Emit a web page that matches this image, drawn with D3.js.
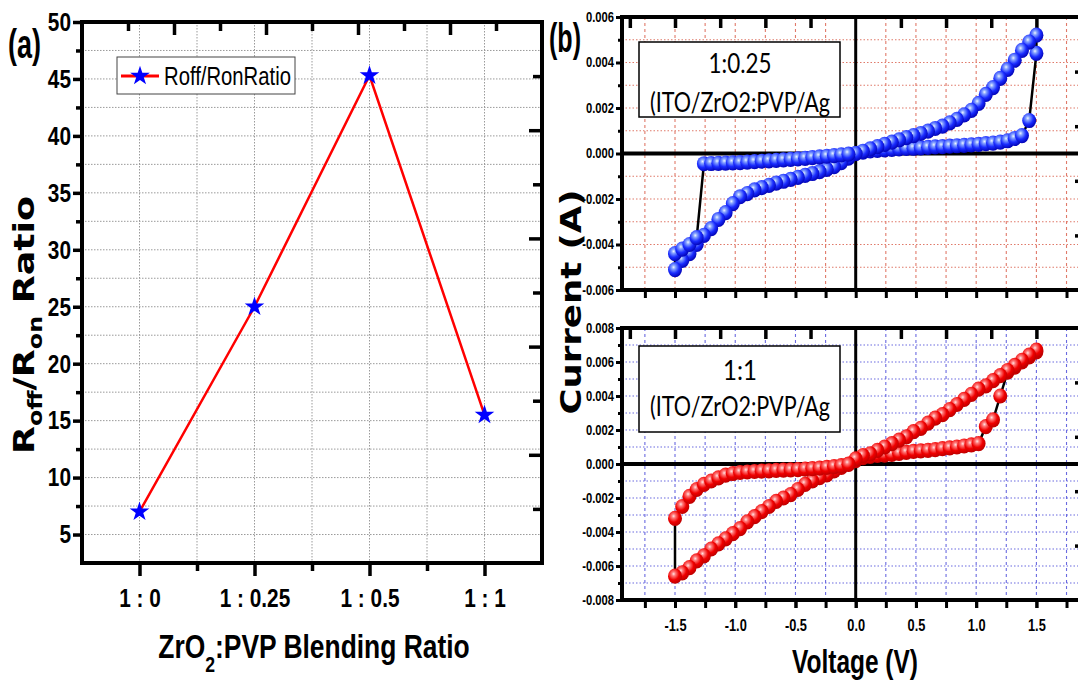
<!DOCTYPE html>
<html>
<head>
<meta charset="utf-8">
<script src="https://cdn.jsdelivr.net/npm/d3@7"></script>
<style>
  body { margin: 0; background: #fff; }
  svg { display: block; }
  .narrow { font-family: "Liberation Sans Narrow", "Arial Narrow", "Liberation Sans", sans-serif; font-weight: bold; }
  .heavy { font-family: "DejaVu Sans", "Liberation Sans", sans-serif; font-weight: bold; }
  .calib { font-family: Lato, "Open Sans", sans-serif; font-weight: normal; }
</style>
</head>
<body>
<svg id="fig" width="1078" height="688"></svg>
<script>
// ---------------- Panel (a): Roff/Ron ratio vs blending ratio ----------------
const ratioCategories = ["1 : 0", "1 : 0.25", "1 : 0.5", "1 : 1"];
const ratioValues = [7, 25, 45.3, 15.5];
const ratioTickLabels = [5, 10, 15, 20, 25, 30, 35, 40, 45, 50];

// ---------------- Panel (b): I-V sweeps (same voltage sweep for both devices) ----------------
const sweepVolts = [
  0, 0.06, 0.12, 0.18, 0.24, 0.30, 0.36, 0.42, 0.48, 0.54, 0.60, 0.66, 0.72, 0.78, 0.84, 0.90, 0.96, 1.02, 1.08, 1.14, 1.20, 1.26, 1.32, 1.38, 1.44, 1.50,
  1.50, 1.44, 1.38, 1.32, 1.26, 1.20, 1.14, 1.08, 1.02, 0.96, 0.90, 0.84, 0.78, 0.72, 0.66, 0.60, 0.54, 0.48, 0.42, 0.36, 0.30, 0.24, 0.18, 0.12, 0.06, 0,
  -0.06, -0.12, -0.18, -0.24, -0.30, -0.36, -0.42, -0.48, -0.54, -0.60, -0.66, -0.72, -0.78, -0.84, -0.90, -0.96, -1.02, -1.08, -1.14, -1.20, -1.26, -1.32, -1.38, -1.44, -1.50,
  -1.50, -1.44, -1.38, -1.32, -1.26, -1.20, -1.14, -1.08, -1.02, -0.96, -0.90, -0.84, -0.78, -0.72, -0.66, -0.60, -0.54, -0.48, -0.42, -0.36, -0.30, -0.24, -0.18, -0.12, -0.06
];
// 1:0.25 device current (A)
const current025 = [
  0, 0.00006, 0.00011, 0.00014, 0.00016, 0.00018, 0.0002, 0.00022, 0.00023, 0.00025, 0.00027, 0.00029, 0.0003, 0.00032, 0.00034, 0.00036, 0.00038, 0.0004, 0.00043, 0.00046, 0.0005, 0.00056, 0.00066, 0.00079, 0.00145, 0.0044,
  0.0052, 0.0049, 0.00453, 0.0041, 0.0037, 0.0033, 0.0029, 0.0026, 0.0022, 0.0019, 0.0017, 0.0015, 0.00135, 0.0012, 0.0011, 0.00098, 0.00088, 0.00079, 0.0007, 0.0006, 0.0005, 0.0004, 0.0003, 0.0002, 0.0001, 0,
  -0.0002, -0.0004, -0.00058, -0.0007, -0.0008, -0.00088, -0.00096, -0.00105, -0.00114, -0.00122, -0.0013, -0.0014, -0.0015, -0.0016, -0.00176, -0.0019, -0.0022, -0.0026, -0.0029, -0.0033, -0.0036, -0.004, -0.0044, -0.0047, -0.0051,
  -0.0044, -0.0042, -0.004, -0.0037, -0.00045, -0.00044, -0.00043, -0.00042, -0.00041, -0.0004, -0.00038, -0.00036, -0.00034, -0.00032, -0.0003, -0.00028, -0.00026, -0.00024, -0.00021, -0.00018, -0.00015, -0.00012, -0.00009, -0.00006, -0.00003
];
// 1:1 device current (A)
const current11 = [
  0.0002, 0.00038, 0.00045, 0.0005, 0.00052, 0.00056, 0.00062, 0.00068, 0.00074, 0.00077, 0.0008, 0.00084, 0.0009, 0.00095, 0.001, 0.00106, 0.00112, 0.0012, 0.0022, 0.0026, 0.004, 0.0054, 0.0057, 0.006, 0.0063, 0.0066,
  0.0067, 0.0064, 0.0061, 0.0058, 0.0055, 0.0052, 0.0049, 0.0046, 0.0044, 0.0041, 0.0038, 0.0035, 0.0032, 0.0029, 0.0027, 0.0024, 0.0021, 0.0019, 0.0016, 0.0014, 0.0012, 0.001, 0.0008, 0.0006, 0.0005, 0.0003,
  0, -0.0002, -0.0004, -0.00064, -0.0008, -0.001, -0.0012, -0.0015, -0.0018, -0.002, -0.0022, -0.0025, -0.0028, -0.0031, -0.0034, -0.0038, -0.0041, -0.0044, -0.0047, -0.005, -0.0054, -0.0057, -0.0061, -0.0064, -0.0066,
  -0.0032, -0.0025, -0.0019, -0.0015, -0.0012, -0.001, -0.00082, -0.00066, -0.00056, -0.0005, -0.00047, -0.00044, -0.00042, -0.0004, -0.00038, -0.00036, -0.00035, -0.00033, -0.0003, -0.00027, -0.00024, -0.0002, -0.00015, -0.0001, -0.00002
];
const voltTickLabels = [-1.5, -1.0, -0.5, 0.0, 0.5, 1.0, 1.5];
const currentTicksTop = [-0.006, -0.004, -0.002, 0, 0.002, 0.004, 0.006];
const currentTicksBottom = [-0.008, -0.006, -0.004, -0.002, 0, 0.002, 0.004, 0.006, 0.008];

const svg = d3.select("#fig");
const defs = svg.append("defs");
const hyphen = f => v => f(v).replace("\u2212", "-");

function tickStyle(g, width) {
  g.select(".domain").remove();
  g.selectAll(".tick line").attr("stroke", "#000").attr("stroke-width", width);
}
function labelStyle(g, size) {
  g.selectAll(".tick text").attr("class", "narrow").style("font-size", size + "px").attr("fill", "#000");
}
// horizontally condense a text about its anchor x (to a target width, or by the default factor)
function condense(node, target) {
  const t = d3.select(node);
  const x = +t.attr("x") || 0;
  const k = target ? target / node.getComputedTextLength() : 0.8;
  const prev = t.attr("transform") || "";
  t.attr("transform", `${prev} translate(${x},0) scale(${k},1) translate(${-x},0)`.trim());
  t.attr("data-condensed", 1);
}

// ======================= Panel (a) =======================
const xA = d3.scaleLinear().domain([-0.5, 3.5]).range([82, 542]);
const yA = d3.scaleLinear().domain([2.5, 50]).range([563, 22]);
const gA = svg.append("g");

// dotted grid at every half step / 2.5 units
const gridA = gA.append("g").attr("stroke", "#9a9a9a").attr("stroke-width", 1).attr("stroke-dasharray", "1.5,1.5");
gridA.selectAll("line.v").data(xA.ticks(8).filter(t => t > -0.5 && t < 3.5)).join("line")
  .attr("x1", d => xA(d)).attr("x2", d => xA(d)).attr("y1", yA(50)).attr("y2", yA(2.5));
gridA.selectAll("line.h").data(d3.range(5, 50, 2.5)).join("line")
  .attr("x1", xA(-0.5)).attr("x2", xA(3.5)).attr("y1", d => yA(d)).attr("y2", d => yA(d));

// bottom axis with category labels
const axBA = gA.append("g").attr("transform", `translate(0,${yA(2.5)})`)
  .call(d3.axisBottom(xA).tickValues(d3.range(ratioCategories.length)).tickFormat(i => ratioCategories[i]).tickSize(13).tickPadding(13));
tickStyle(axBA, 3.5); labelStyle(axBA, 26);
tickStyle(gA.append("g").attr("transform", `translate(0,${yA(2.5)})`)
  .call(d3.axisBottom(xA).tickValues([0.5, 1.5, 2.5]).tickSize(8).tickFormat("")), 3.5);

// left axis
const axLA = gA.append("g").attr("transform", `translate(${xA(-0.5)},0)`)
  .call(d3.axisLeft(yA).tickValues(ratioTickLabels).tickSize(9).tickPadding(2));
tickStyle(axLA, 3.5); labelStyle(axLA, 26);
tickStyle(gA.append("g").attr("transform", `translate(${xA(-0.5)},0)`)
  .call(d3.axisLeft(yA).tickValues(d3.range(7.5, 50, 5)).tickSize(6).tickFormat("")), 3.5);

// mirrored top / right ticks (ten divisions of the axis range)
const topA = d3.range(11).map(i => -0.5 + i * 0.4).filter(v => v > -0.5 && v < 3.5);
tickStyle(gA.append("g").attr("transform", `translate(0,${yA(50)})`)
  .call(d3.axisTop(xA).tickValues(topA.filter((v, i) => i % 2 === 1)).tickSize(-13).tickFormat("")), 3.5);
tickStyle(gA.append("g").attr("transform", `translate(0,${yA(50)})`)
  .call(d3.axisTop(xA).tickValues(topA.filter((v, i) => i % 2 === 0)).tickSize(-9).tickFormat("")), 3.5);
const rightA = d3.range(11).map(i => 2.5 + i * 4.75).filter(v => v > 2.5 && v < 50);
tickStyle(gA.append("g").attr("transform", `translate(${xA(3.5)},0)`)
  .call(d3.axisRight(yA).tickValues(rightA.filter((v, i) => i % 2 === 1)).tickSize(-13).tickFormat("")), 3.5);
tickStyle(gA.append("g").attr("transform", `translate(${xA(3.5)},0)`)
  .call(d3.axisRight(yA).tickValues(rightA.filter((v, i) => i % 2 === 0)).tickSize(-9).tickFormat("")), 3.5);

// frame
gA.append("rect").attr("x", xA(-0.5)).attr("y", yA(50))
  .attr("width", xA(3.5) - xA(-0.5)).attr("height", yA(2.5) - yA(50))
  .attr("fill", "none").attr("stroke", "#000").attr("stroke-width", 4);

// data line + star markers
gA.append("path").datum(ratioValues)
  .attr("d", d3.line().x((d, i) => xA(i)).y(d => yA(d)))
  .attr("fill", "none").attr("stroke", "#ff0000").attr("stroke-width", 2.5);
const star = d3.symbol(d3.symbolStar, 120);
gA.selectAll("path.star").data(ratioValues).join("path").attr("class", "star")
  .attr("d", star).attr("transform", (d, i) => `translate(${xA(i)},${yA(d)})`)
  .attr("fill", "#0000ff");

// legend
const leg = gA.append("g").attr("transform", "translate(117,57)");
leg.append("rect").attr("width", 178).attr("height", 37).attr("fill", "#fff").attr("stroke", "#444").attr("stroke-width", 1);
leg.append("line").attr("x1", 4).attr("x2", 42).attr("y1", 19).attr("y2", 19).attr("stroke", "#ff0000").attr("stroke-width", 3);
leg.append("path").attr("d", star).attr("transform", "translate(23,19)").attr("fill", "#0000ff");
const legText = leg.append("text").attr("class", "narrow").attr("x", 47).attr("y", 28).style("font-size", "25px").style("font-weight", "normal")
  .text("Roff/RonRatio");
condense(legText.node(), 127);

// axis titles
const yTitleA = gA.append("text").attr("class", "heavy").attr("text-anchor", "middle")
  .attr("transform", "translate(34,325) rotate(-90)").style("font-size", "29px")
  .attr("textLength", 258).attr("lengthAdjust", "spacingAndGlyphs");
yTitleA.append("tspan").text("R");
yTitleA.append("tspan").attr("dy", 8).style("font-size", "19px").text("off");
yTitleA.append("tspan").attr("dy", -8).text("/R");
yTitleA.append("tspan").attr("dy", 8).style("font-size", "19px").text("on");
yTitleA.append("tspan").attr("dy", -8).text(" Ratio");

const xTitleA = gA.append("text").attr("class", "narrow").attr("text-anchor", "middle")
  .attr("x", 314).attr("y", 658).style("font-size", "33px");
xTitleA.append("tspan").text("ZrO");
xTitleA.append("tspan").attr("dy", 14).style("font-size", "22px").text("2");
xTitleA.append("tspan").attr("dy", -14).text(":PVP Blending Ratio");

const tagA = gA.append("text").attr("class", "narrow").attr("x", 8).attr("y", 58).style("font-size", "40px").text("(a)");
condense(tagA.node(), 33);

// ======================= Panel (b) =======================
const xB = d3.scaleLinear().domain([-1.94, 1.92]).range([622, 1087]);

// glossy sphere markers
function sphereGradient(id, light, mid, base, dark) {
  const g = defs.append("radialGradient").attr("id", id).attr("cx", "40%").attr("cy", "35%").attr("r", "68%");
  g.append("stop").attr("offset", "0%").attr("stop-color", light);
  g.append("stop").attr("offset", "20%").attr("stop-color", mid);
  g.append("stop").attr("offset", "58%").attr("stop-color", base);
  g.append("stop").attr("offset", "100%").attr("stop-color", dark);
}
sphereGradient("ballBlue", "#eef4ff", "#86a4ff", "#1a2cff", "#0000b0");
sphereGradient("ballRed", "#ffe4e4", "#ff7a7a", "#f00000", "#b80000");

function ivPanel(opts) {
  const { top, bottom, domainY, ticks, gridColor, currents, fill, label, rightDiv, showX } = opts;
  const y = d3.scaleLinear().domain(domainY).range([bottom, top]);
  const g = svg.append("g");
  const [x0, x1] = xB.range();

  // dotted grid
  const grid = g.append("g").attr("stroke", gridColor).attr("stroke-width", 1.1);
  grid.selectAll("line.v").data(d3.range(-1.75, 1.76, 0.25).filter(v => Math.abs(v) > 1e-9)).join("line")
    .attr("x1", d => xB(d)).attr("x2", d => xB(d)).attr("y1", top).attr("y2", bottom).attr("stroke-dasharray", "3,3");
  const stepI = 0.001;
  grid.selectAll("line.h").data(d3.range(domainY[0] + stepI, domainY[1] - stepI / 2, stepI).filter(v => Math.abs(v) > 1e-9)).join("line")
    .attr("x1", x0).attr("x2", x1).attr("y1", d => y(d)).attr("y2", d => y(d)).attr("stroke-dasharray", "1.5,2");

  // left axis
  const axL = g.append("g").attr("transform", `translate(${x0},0)`)
    .call(d3.axisLeft(y).tickValues(ticks).tickSize(6).tickPadding(2).tickFormat(hyphen(d3.format(".3f"))));
  tickStyle(axL, 3); labelStyle(axL, 14);
  tickStyle(g.append("g").attr("transform", `translate(${x0},0)`)
    .call(d3.axisLeft(y).tickValues(ticks.slice(1).map(t => t - 0.001)).tickSize(4).tickFormat("")), 3);

  // bottom axis
  const axB = g.append("g").attr("transform", `translate(0,${bottom})`)
    .call(d3.axisBottom(xB).tickValues(d3.range(-1.75, 1.76, 0.25)).tickSize(8).tickFormat(""));
  tickStyle(axB, 3);
  if (showX) {
    const axT = g.append("g").attr("transform", `translate(0,${bottom})`)
      .call(d3.axisBottom(xB).tickValues(voltTickLabels).tickSize(8).tickPadding(12).tickFormat(hyphen(d3.format(".1f"))));
    tickStyle(axT, 3); labelStyle(axT, 16);
  }

  // mirrored top / right ticks
  const topT = d3.range(-5, 6).map(k => k * 0.375).filter(v => v !== 0);
  tickStyle(g.append("g").attr("transform", `translate(0,${top})`)
    .call(d3.axisTop(xB).tickValues(topT).tickSize(-11).tickFormat("")), 3.5);
  const rightT = d3.range(1, 5).map(i => domainY[0] + i * rightDiv);
  tickStyle(g.append("g").attr("transform", `translate(${x1},0)`)
    .call(d3.axisRight(y).tickValues(rightT).tickSize(-12).tickFormat("")), 3.5);

  // zero lines
  g.append("line").attr("x1", x0).attr("x2", x1).attr("y1", y(0)).attr("y2", y(0)).attr("stroke", "#000").attr("stroke-width", 4);
  g.append("line").attr("x1", xB(0)).attr("x2", xB(0)).attr("y1", top).attr("y2", bottom).attr("stroke", "#000").attr("stroke-width", 3);

  // frame
  g.append("rect").attr("x", x0).attr("y", top).attr("width", x1 - x0).attr("height", bottom - top)
    .attr("fill", "none").attr("stroke", "#000").attr("stroke-width", 4);

  // label box
  const box = g.append("g");
  box.append("rect").attr("x", 639).attr("y", label.y).attr("width", 201).attr("height", label.h)
    .attr("fill", "#fff").attr("stroke", "#000").attr("stroke-width", 1.5);
  box.append("text").attr("class", "calib").attr("text-anchor", "middle").attr("x", 740).attr("y", label.y + label.b1)
    .style("font-size", "27px").attr("textLength", label.w1).attr("lengthAdjust", "spacingAndGlyphs").text(label.ratio);
  box.append("text").attr("class", "calib").attr("text-anchor", "middle").attr("x", 740).attr("y", label.y + label.b2)
    .style("font-size", "27px").attr("textLength", 180).attr("lengthAdjust", "spacingAndGlyphs").text("(ITO/ZrO2:PVP/Ag");

  // sweep: connecting line then sphere markers
  const pts = sweepVolts.map((v, i) => [v, currents[i]]);
  g.append("path").datum(pts)
    .attr("d", d3.line().x(d => xB(d[0])).y(d => y(d[1])))
    .attr("fill", "none").attr("stroke", "#000").attr("stroke-width", 2.5);
  g.selectAll("ellipse.pt").data(pts).join("ellipse").attr("class", "pt")
    .attr("cx", d => xB(d[0])).attr("cy", d => y(d[1])).attr("rx", 7).attr("ry", 7.6)
    .attr("fill", `url(#${fill})`);
  return y;
}

ivPanel({ top: 17, bottom: 290, domainY: [-0.006, 0.006], ticks: currentTicksTop, gridColor: "#e07a6a",
  currents: current025, fill: "ballBlue", rightDiv: 0.0024, showX: false,
  label: { y: 42, h: 75, b1: 31, b2: 70, ratio: "1:0.25", w1: 63 } });
ivPanel({ top: 328, bottom: 600, domainY: [-0.008, 0.008], ticks: currentTicksBottom, gridColor: "#6a6ae0",
  currents: current11, fill: "ballRed", rightDiv: 0.0032, showX: true,
  label: { y: 346, h: 86, b1: 34, b2: 70, ratio: "1:1", w1: 34 } });

// panel (b) titles
svg.append("text").attr("class", "heavy").attr("text-anchor", "middle")
  .attr("transform", "translate(581,302) rotate(-90)").style("font-size", "28px")
  .attr("textLength", 225).attr("lengthAdjust", "spacingAndGlyphs").text("Current (A)");
const vTitle = svg.append("text").attr("class", "narrow").attr("text-anchor", "middle")
  .attr("x", 855).attr("y", 673).style("font-size", "34px").text("Voltage (V)");
condense(vTitle.node(), 126);
const tagB = svg.append("text").attr("class", "narrow").attr("x", 549).attr("y", 52).style("font-size", "40px").text("(b)");
condense(tagB.node(), 32);

// condense the remaining bold sans labels to a narrow face width
svg.selectAll("text.narrow").each(function () {
  if (this.hasAttribute("data-condensed")) return;
  condense(this);
});
</script>
</body>
</html>
